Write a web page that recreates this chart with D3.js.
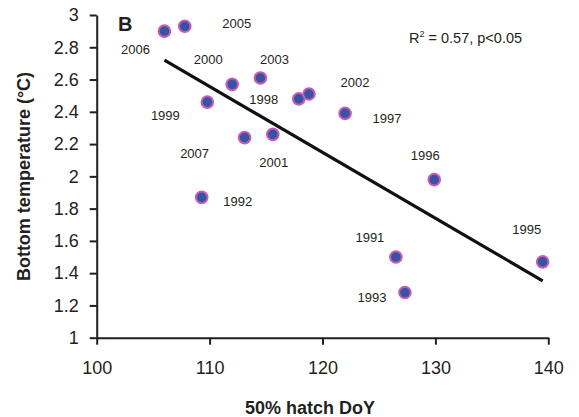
<!DOCTYPE html>
<html>
<head>
<meta charset="utf-8">
<script src="https://cdn.jsdelivr.net/npm/d3@7"></script>
<style>
  body { margin: 0; background: #fff; }
  svg text { font-family: "Liberation Sans", Arial, sans-serif; fill: #231f20; }
  .axis path, .axis line { stroke: #231f20; stroke-width: 2px; }
</style>
</head>
<body>
<svg id="chart"></svg>
<script>
// data
var years = ["2006", "2005", "2000", "2003", "1999", "2007", "2001", "1992",
             "1998", "2002", "1997", "1996", "1991", "1993", "1995"];
var hatchDoY = [106.0, 107.8, 112.0, 114.5, 109.8, 113.1, 115.6, 109.3,
                117.9, 118.8, 122.0, 129.9, 126.5, 127.3, 139.5];
var bottomTemp = [2.90, 2.93, 2.57, 2.61, 2.46, 2.24, 2.26, 1.87,
                  2.48, 2.51, 2.39, 1.98, 1.50, 1.28, 1.47];
var xTicks = [100, 110, 120, 130, 140];
var yTicks = [1, 1.2, 1.4, 1.6, 1.8, 2, 2.2, 2.4, 2.6, 2.8, 3];

// label offsets from point (px), same order as years
var labelDx = [-29, 52, -24, 14, -42, -50, 1, 36, -35, 46, 42, -9, -26, -33, -16];
var labelDy = [18, -3, -25, -19, 13, 16, 28, 4, 0, -12, 5, -24, -20, 5, -33];

var svgWidth = 579, svgHeight = 417;
// plot edges (px)
var plotLeft = 96.7, plotRight = 548.3, plotTop = 15, plotBottom = 337.7;

var svg = d3.select("#chart")
  .attr("width", svgWidth)
  .attr("height", svgHeight);

var x = d3.scaleLinear().domain([100, 140]).range([plotLeft, plotRight]);
var y = d3.scaleLinear().domain([1, 3]).range([plotBottom, plotTop]);

// axes
svg.append("g")
  .attr("class", "axis")
  .attr("transform", "translate(0," + plotBottom + ")")
  .call(d3.axisBottom(x).tickValues(xTicks).tickSize(7).tickSizeOuter(0).tickPadding(17))
  .call(function(g) {
    g.selectAll("text").attr("font-size", "18px").style("font-family", "'Liberation Sans', Arial, sans-serif");
  });

svg.append("g")
  .attr("class", "axis")
  .attr("transform", "translate(" + plotLeft + ",0)")
  .call(d3.axisLeft(y).tickValues(yTicks).tickFormat(d3.format("~g")).tickSize(7).tickSizeOuter(0).tickPadding(11))
  .call(function(g) {
    g.selectAll("text").attr("font-size", "18px").style("font-family", "'Liberation Sans', Arial, sans-serif");
  });

// axis titles
svg.append("text")
  .attr("x", 310)
  .attr("y", 414)
  .attr("text-anchor", "middle")
  .attr("font-size", "18px")
  .attr("font-weight", "bold")
  .text("50% hatch DoY");

svg.append("text")
  .attr("transform", "translate(30,176.5) rotate(-90)")
  .attr("text-anchor", "middle")
  .attr("font-size", "18px")
  .attr("font-weight", "bold")
  .text("Bottom temperature (°C)");

// panel letter
svg.append("text")
  .attr("x", 118)
  .attr("y", 30.7)
  .attr("font-size", "20px")
  .attr("font-weight", "bold")
  .text("B");

// regression line (least squares from the points)
var mx = d3.mean(hatchDoY), my = d3.mean(bottomTemp);
var sxy = d3.sum(hatchDoY, function(d, i) { return (d - mx) * (bottomTemp[i] - my); });
var sxx = d3.sum(hatchDoY, function(d) { return (d - mx) * (d - mx); });
var slope = sxy / sxx;
var icpt = my - slope * mx;
var xExt = d3.extent(hatchDoY);

svg.append("line")
  .attr("x1", x(xExt[0]))
  .attr("y1", y(icpt + slope * xExt[0]))
  .attr("x2", x(xExt[1]))
  .attr("y2", y(icpt + slope * xExt[1]))
  .attr("stroke", "#111")
  .attr("stroke-width", 3.2);

// points
svg.selectAll("circle.pt")
  .data(years)
  .enter()
  .append("circle")
  .attr("class", "pt")
  .attr("cx", function(d, i) { return x(hatchDoY[i]); })
  .attr("cy", function(d, i) { return y(bottomTemp[i]); })
  .attr("r", 5.8)
  .attr("fill", "#3953a4")
  .attr("stroke", "#c65cb4")
  .attr("stroke-width", 2);

// year labels
svg.selectAll("text.yr")
  .data(years)
  .enter()
  .append("text")
  .attr("class", "yr")
  .attr("x", function(d, i) { return x(hatchDoY[i]) + labelDx[i]; })
  .attr("y", function(d, i) { return y(bottomTemp[i]) + labelDy[i]; })
  .attr("dy", "0.36em")
  .attr("text-anchor", "middle")
  .attr("font-size", "13px")
  .text(function(d) { return d; });

// R2 note
var note = svg.append("text")
  .attr("x", 409)
  .attr("y", 42.7)
  .attr("font-size", "14.5px");
note.append("tspan").text("R");
note.append("tspan").attr("font-size", "9px").attr("dy", "-6").text("2");
note.append("tspan").attr("dy", "6").text(" = 0.57, p<0.05");
</script>
</body>
</html>
